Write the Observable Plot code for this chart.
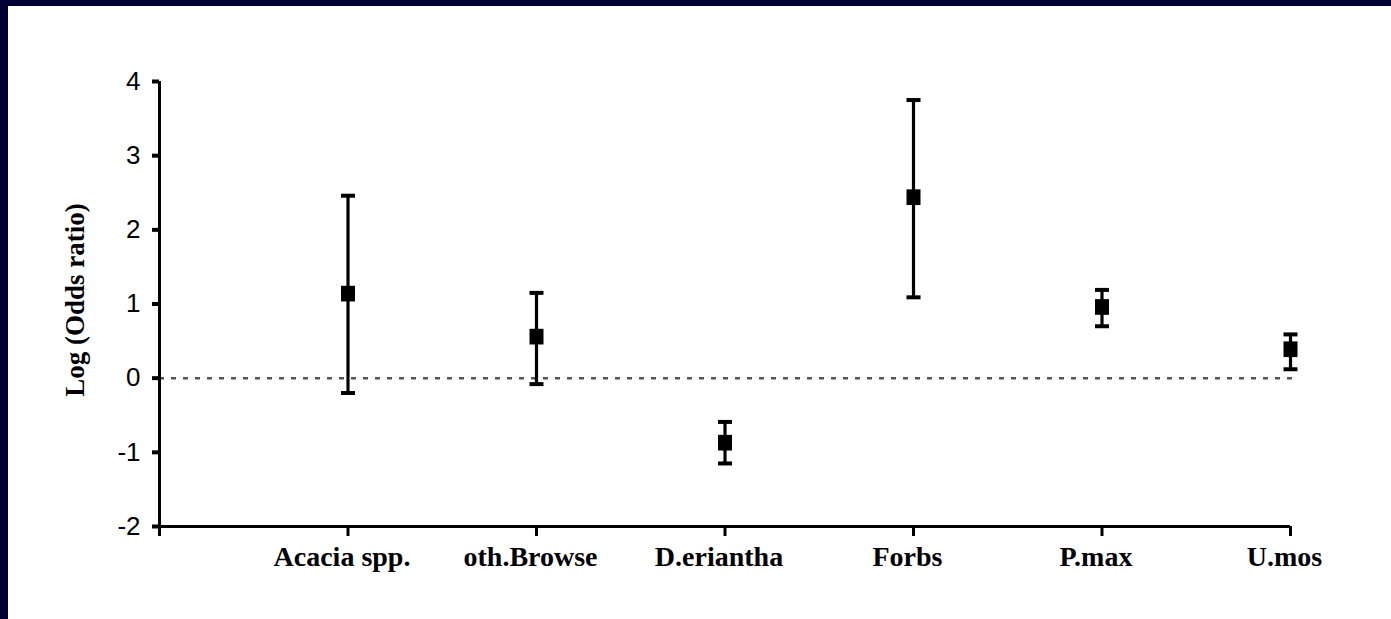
<!DOCTYPE html>
<html>
<head>
<meta charset="utf-8">
<script src="https://cdn.jsdelivr.net/npm/d3@7"></script>
<script src="https://cdn.jsdelivr.net/npm/@observablehq/plot@0.6"></script>
<style>
  html, body { margin: 0; padding: 0; background: #000034; width: 1391px; height: 619px; overflow: hidden; }
  #wrap { position: absolute; left: 8px; top: 6px; width: 1383px; height: 613px; background: #fff; }
  svg { display: block; }
</style>
</head>
<body>
<div id="wrap"></div>
<script>
// Data
const categories = ["Acacia spp.", "oth.Browse", "D.eriantha", "Forbs", "P.max", "U.mos"];
const estimate   = [1.14, 0.56, -0.87, 2.44, 0.96, 0.39];
const lower      = [-0.20, -0.08, -1.15, 1.09, 0.70, 0.12];
const upper      = [2.46, 1.15, -0.59, 3.75, 1.19, 0.59];
const yTicks     = [-2, -1, 0, 1, 2, 3, 4];
const xTicks     = [0, 1, 2, 3, 4, 5, 6];
const yLabel     = "Log (Odds ratio)";

const data = categories.map((c, k) => ({ i: k + 1, name: c, est: estimate[k], lo: lower[k], hi: upper[k] }));

// custom symbols
const capSymbol = {
  draw(ctx, size) {
    const r = Math.sqrt(size / Math.PI);
    ctx.moveTo(-r, 0); ctx.lineTo(r, 0);
  }
};
const boxSymbol = {
  draw(ctx, size) {
    const r = Math.sqrt(size / Math.PI);
    ctx.rect(-r, -r * 1.12, 2 * r, 2.24 * r);
  }
};

const serif = "'Liberation Serif', 'Times New Roman', serif";
const sans = "'Liberation Sans', Arial, sans-serif";

const chart = Plot.plot({
  width: 1383,
  height: 613,
  marginLeft: 151,
  marginRight: 101,
  marginTop: 75,
  marginBottom: 93,
  style: { background: "#fff", color: "#000" },
  x: { type: "linear", domain: [0, 6], axis: null },
  y: { domain: [-2, 4], axis: null },
  marks: [
    // zero reference line
    Plot.ruleY([0], { x1: 0, x2: 6.03, stroke: "#555", strokeWidth: 2.5, strokeDasharray: "5,7" }),
    // y axis ticks and labels
    Plot.axisY({ ticks: yTicks, tickSize: 7, tickPadding: 12, strokeWidth: 4, fontSize: 26, fontFamily: sans,
                 tickFormat: (d) => String(d), label: null }),
    // x axis ticks
    Plot.axisX({ ticks: xTicks, tickSize: 10, strokeWidth: 3, tickFormat: () => "", label: null }),
    // x axis category labels
    Plot.axisX({ ticks: xTicks, tickSize: 0, tickPadding: 20, dx: -6, fontSize: 28, fontFamily: serif, fontWeight: "bold",
                 tickFormat: (t) => (t >= 1 ? categories[t - 1] : ""), label: null }),
    // axis lines
    Plot.ruleX([0], { y1: -2, y2: 4, strokeWidth: 3 }),
    Plot.ruleY([-2], { x1: 0, x2: 6, strokeWidth: 3 }),
    // error bars
    Plot.ruleX(data, { x: "i", y1: "lo", y2: "hi", strokeWidth: 3.2 }),
    Plot.dot(data, { x: "i", y: "hi", symbol: capSymbol, r: 7, stroke: "#000", strokeWidth: 4 }),
    Plot.dot(data, { x: "i", y: "lo", symbol: capSymbol, r: 7, stroke: "#000", strokeWidth: 4 }),
    // point estimates
    Plot.dot(data, { x: "i", y: "est", symbol: boxSymbol, r: 7, fill: "#000", stroke: "none" }),
    // y axis title
    Plot.text([yLabel], { frameAnchor: "left", textAnchor: "middle", rotate: -90, dx: -84, dy: -4, fontSize: 27,
                          fontFamily: serif, fontWeight: "bold", fill: "#000" })
  ]
});
document.getElementById("wrap").appendChild(chart);
</script>
</body>
</html>
